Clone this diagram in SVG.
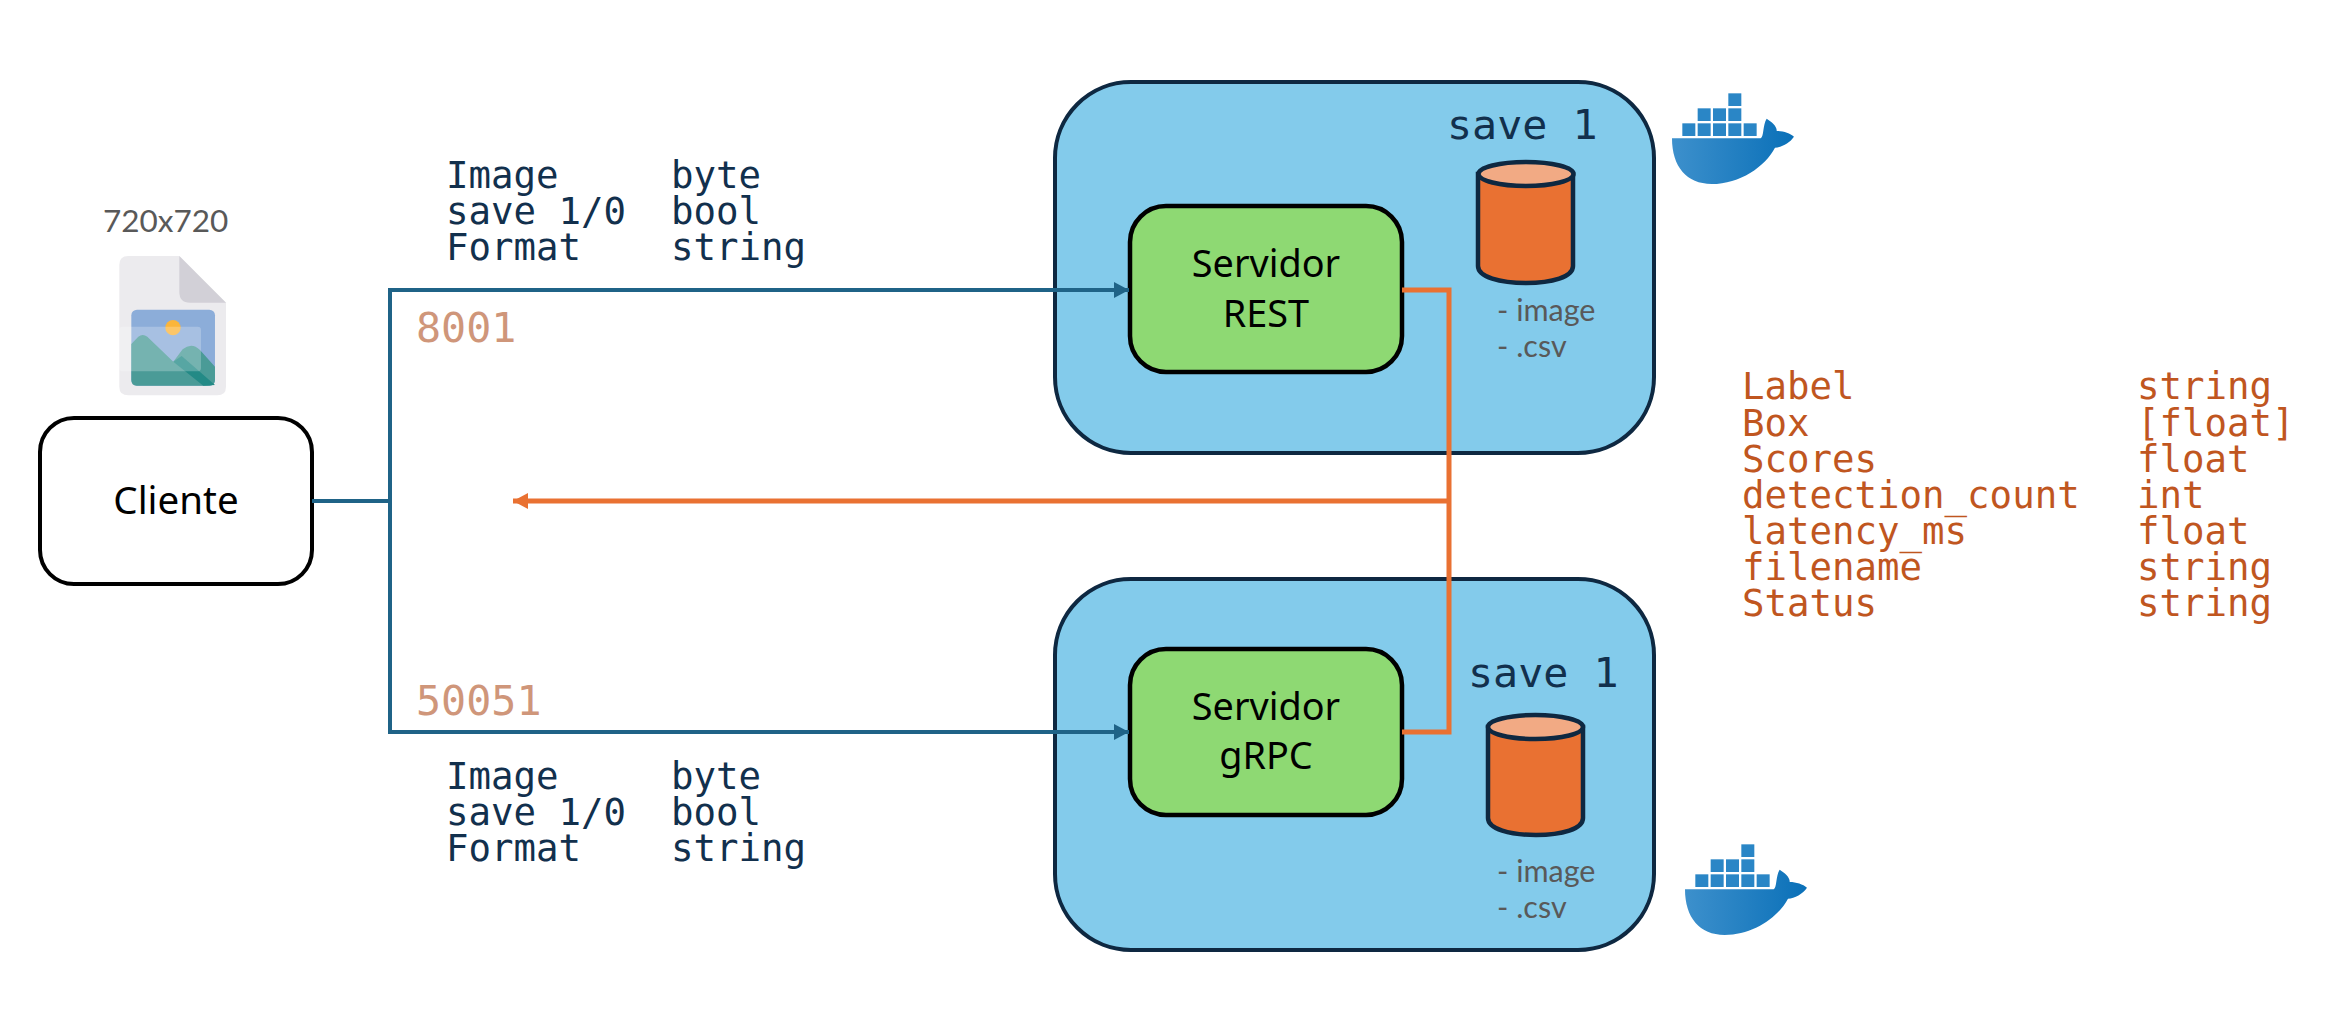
<svg xmlns="http://www.w3.org/2000/svg" width="2345" height="1034" viewBox="0 0 2345 1034">
<style>
.mono{font-family:"DejaVu Sans Mono","Liberation Mono",monospace;white-space:pre}
.req{font-size:37.4px;fill:#12304d}
.res{font-size:37.4px;fill:#c0561f}
.port{font-size:41.7px;fill:#cf967a}
.save{font-size:41.7px;fill:#12304d}
.lato{font-family:Lato,"Open Sans",sans-serif;fill:#595959}
.sans{font-family:"Noto Sans","Liberation Sans",sans-serif;fill:#000;text-anchor:middle}
.container{fill:#83cbeb;stroke:#0e2841;stroke-width:4}
.server{fill:#8ed973;stroke:#000;stroke-width:4.5}
.cyl{fill:#e97132;stroke:#0e2841;stroke-width:4.5}
.cyltop{fill:#f2aa84;stroke:#0e2841;stroke-width:4.5}
.blue{fill:none;stroke:#1f6387;stroke-width:4}
.orange{fill:none;stroke:#e97132;stroke-width:5}
</style>
<defs>
<marker id="ab" markerUnits="userSpaceOnUse" markerWidth="16" markerHeight="16" refX="15" refY="8" orient="auto"><path d="M0 0L15 8L0 16Z" fill="#1f6387"/></marker>
<marker id="ao" markerUnits="userSpaceOnUse" markerWidth="16" markerHeight="16" refX="15" refY="8" orient="auto"><path d="M0 0L15 8L0 16Z" fill="#e97132"/></marker>
<linearGradient id="dg" x1="0" y1="0" x2="1" y2="0"><stop offset="0" stop-color="#3d90cc"/><stop offset="1" stop-color="#0a70b8"/></linearGradient>
<g id="docker">
<path fill="url(#dg)" d="M96 205L362 205C372 200 368 165 380 146C395 155 412 170 410 183C430 183 450 190 462 200C450 218 425 232 405 233C375 290 300 342 215 342C140 342 96 290 96 205Z"/>
<g fill="#2a86c6">
<rect x="127" y="160" width="39" height="38"/><rect x="173" y="160" width="39" height="38"/><rect x="219" y="160" width="39" height="38"/><rect x="265" y="160" width="39" height="38"/><rect x="311" y="160" width="39" height="38"/>
<rect x="173" y="115" width="39" height="38"/><rect x="219" y="115" width="39" height="38"/><rect x="265" y="115" width="39" height="38"/>
<rect x="265" y="70" width="39" height="38"/>
</g>
</g>
</defs>
<rect width="2345" height="1034" fill="#fff"/>

<g id="image-file">
<text class="lato" x="103" y="232" font-size="31.5">720x720</text>
<g transform="translate(0,170) scale(0.3333)">
<path fill="#ecebee" d="M385 258L538 258L678 398L678 650Q678 676 652 676L385 676Q358 676 358 650L358 285Q358 258 385 258Z"/>
<path fill="#d2d0d7" d="M538 258L678 398L570 398Q538 398 538 365Z"/>
<rect x="394" y="419" width="251" height="228" rx="17" fill="#8cadd9"/>
<path fill="#4a9b97" d="M394 522L415 500Q428 490 442 500L520 575L548 538Q575 515 600 540L645 590L645 630Q645 647 628 647L410 647Q394 647 394 630Z"/>
<path fill="#238a86" d="M520 575L545 558L645 645L610 647Z"/>
<circle cx="519" cy="473" r="23" fill="#fbb53a"/>
<rect x="358" y="470" width="245" height="134" rx="10" fill="#fff" fill-opacity="0.24"/>
</g>
</g>

<g id="cliente">
<rect x="40" y="418" width="272" height="166" rx="34" fill="#fff" stroke="#000" stroke-width="4"/>
<text class="sans" x="176" y="514" font-size="38.5">Cliente</text>
</g>

<g id="container-rest">
<rect class="container" x="1055" y="82" width="599" height="371" rx="76"/>
<text class="mono save" x="1447" y="139">save 1</text>
<g id="db-rest">
<path class="cyl" d="M1478 174V266C1478 277 1500 283 1526 283C1552 283 1573 277 1573 266V174Z"/>
<ellipse class="cyltop" cx="1526" cy="174" rx="47.5" ry="12"/>
</g>
<text class="lato" x="1497" y="321" font-size="30.5">- image</text>
<text class="lato" x="1497" y="357" font-size="30.5">- .csv</text>
</g>
<g id="servidor-rest">
<rect class="server" x="1130" y="206" width="272" height="166" rx="36"/>
<text class="sans" x="1266" y="277" font-size="37.8">Servidor</text>
<text class="sans" x="1266" y="327" font-size="37.8">REST</text>
</g>
<use id="docker-rest" href="#docker" transform="translate(1640,70) scale(0.3333)"/>

<g id="container-grpc">
<rect class="container" x="1055" y="579" width="599" height="371" rx="76"/>
<text class="mono save" x="1468" y="687">save 1</text>
<g id="db-grpc">
<path class="cyl" d="M1488 727V818C1488 829 1510 835 1536 835C1562 835 1583 829 1583 818V727Z"/>
<ellipse class="cyltop" cx="1535.5" cy="727" rx="47.5" ry="12"/>
</g>
<text class="lato" x="1497" y="882" font-size="30.5">- image</text>
<text class="lato" x="1497" y="918" font-size="30.5">- .csv</text>
</g>
<g id="servidor-grpc">
<rect class="server" x="1130" y="649" width="272" height="166" rx="36"/>
<text class="sans" x="1266" y="720" font-size="37.8">Servidor</text>
<text class="sans" x="1266" y="769" font-size="37.8">gRPC</text>
</g>
<use id="docker-grpc" href="#docker" transform="translate(1653,821) scale(0.3333)"/>

<g id="connectors">
<path class="blue" d="M312 501H390"/>
<path class="blue" d="M390 501V290H1129" marker-end="url(#ab)"/>
<path class="blue" d="M390 501V732H1129" marker-end="url(#ab)"/>
<path class="orange" d="M1402 290H1449V732H1402"/>
<path class="orange" d="M1449 501H513" marker-end="url(#ao)"/>
</g>

<g id="request-rest" class="mono req">
<text x="446" y="188">Image</text><text x="671" y="188">byte</text>
<text x="446" y="224">save 1/0</text><text x="671" y="224">bool</text>
<text x="446" y="260">Format</text><text x="671" y="260">string</text>
</g>
<text id="port-rest" class="mono port" x="416" y="342">8001</text>
<text id="port-grpc" class="mono port" x="416" y="715">50051</text>
<g id="request-grpc" class="mono req">
<text x="446" y="789">Image</text><text x="671" y="789">byte</text>
<text x="446" y="825">save 1/0</text><text x="671" y="825">bool</text>
<text x="446" y="861">Format</text><text x="671" y="861">string</text>
</g>

<g id="response" class="mono res">
<text x="1742" y="399">Label</text><text x="2137" y="399">string</text>
<text x="1742" y="435.500">Box</text><text x="2137" y="435.500">[float]</text>
<text x="1742" y="471.500">Scores</text><text x="2137" y="471.500">float</text>
<text x="1742" y="507.500">detection_count</text><text x="2137" y="507.500">int</text>
<text x="1742" y="543.500">latency_ms</text><text x="2137" y="543.500">float</text>
<text x="1742" y="579.500">filename</text><text x="2137" y="579.500">string</text>
<text x="1742" y="616">Status</text><text x="2137" y="616">string</text>
</g>
</svg>
